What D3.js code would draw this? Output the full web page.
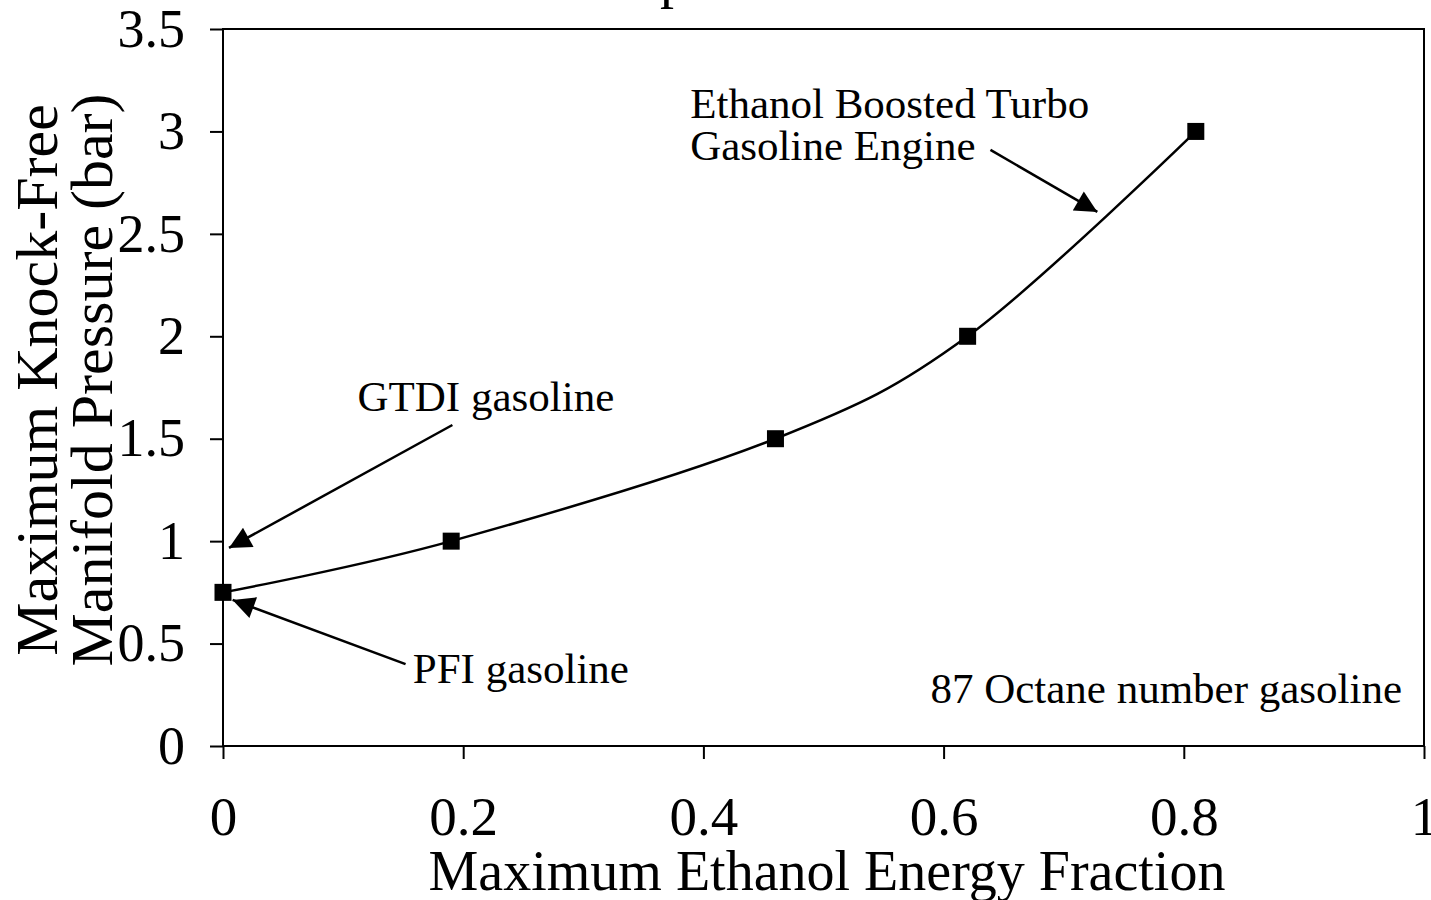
<!DOCTYPE html>
<html>
<head>
<meta charset="utf-8">
<script src="https://cdn.jsdelivr.net/npm/d3@7"></script>
<style>
  body { margin: 0; background: #fff; }
  svg { display: block; font-family: "Liberation Serif", "Times New Roman", serif; }
</style>
</head>
<body>
<svg id="chart" width="1431" height="900"></svg>
<script>
// data
const ethanolFraction = [0, 0.19, 0.46, 0.62, 0.81];
const manifoldPressure = [0.75, 1.0, 1.5, 2.0, 3.0];
const xTicks = [0, 0.2, 0.4, 0.6, 0.8, 1];
const yTicks = [0, 0.5, 1, 1.5, 2, 2.5, 3, 3.5];

// annotation labels (in data units)
const labelTexts = ['Ethanol Boosted Turbo', 'Gasoline Engine', 'GTDI gasoline', 'PFI gasoline', '87 Octane number gasoline'];
const labelX = [0.389, 0.389, 0.112, 0.158, 0.589];
const labelY = [3.066, 2.86, 1.635, 0.307, 0.21];
const arrowFrom = [[0.639, 2.91], [0.191, 1.567], [0.152, 0.40]];
const arrowTo = [[0.728, 2.607], [0.005, 0.967], [0.008, 0.713]];

const width = 1431, height = 900;
const margin = { left: 223, right: 7, top: 29, bottom: 154 };

const svg = d3.select('#chart');

const x = d3.scaleLinear().domain([0, 1]).range([margin.left, width - margin.right]);
const y = d3.scaleLinear().domain([0, 3.5]).range([height - margin.bottom, margin.top]);

// title (mostly out of view, only the descender of the "p" shows)
const title = svg.append('text')
    .attr('x', 0)
    .attr('y', -3)
    .style('font-size', '56px')
    .text('Knock Free Operation');
const pPos = title.node().getStartPositionOfChar(12).x;
title.attr('x', 660 - pPos);

// plot frame
svg.append('rect')
    .attr('x', x(0)).attr('y', y(3.5))
    .attr('width', x(1) - x(0)).attr('height', y(0) - y(3.5))
    .attr('fill', 'none').attr('stroke', '#000').attr('stroke-width', 2);

// axes
const xAxis = d3.axisBottom(x).tickValues(xTicks).tickSize(13).tickPadding(37)
    .tickFormat(d => d === 0 || d === 1 ? d3.format('d')(d) : d3.format('.1f')(d));
svg.append('g')
    .attr('transform', `translate(0, ${y(0)})`)
    .call(xAxis)
    .call(g => g.select('.domain').remove())
    .call(g => g.selectAll('line').attr('stroke-width', 2))
    .call(g => g.selectAll('text').style('font-size', '55px').style('font-family', 'Liberation Serif').attr('fill', '#000'));

const yAxis = d3.axisLeft(y).tickValues(yTicks).tickSize(13).tickPadding(25)
    .tickFormat(d => d % 1 === 0 ? d3.format('d')(d) : d3.format('.1f')(d));
svg.append('g')
    .attr('transform', `translate(${x(0)}, 0)`)
    .call(yAxis)
    .call(g => g.select('.domain').remove())
    .call(g => g.selectAll('line').attr('stroke-width', 2))
    .call(g => g.selectAll('text').style('font-size', '54px').style('font-family', 'Liberation Serif').attr('fill', '#000'));

// axis titles
svg.append('text')
    .attr('x', 827)
    .attr('y', 890)
    .attr('text-anchor', 'middle')
    .style('font-size', '56px')
    .text('Maximum Ethanol Energy Fraction');

const yTitle = svg.append('text')
    .attr('transform', `translate(57, 380) rotate(-90)`)
    .attr('text-anchor', 'middle')
    .style('font-size', '60px');
yTitle.append('tspan').attr('x', 0).attr('dy', 0).text('Maximum Knock-Free');
yTitle.append('tspan').attr('x', 0).attr('dy', 55).text('Manifold Pressure (bar)');

// curve
const pts = ethanolFraction.map((d, i) => [d, manifoldPressure[i]]);
const line = d3.line()
    .x(d => x(d[0]))
    .y(d => y(d[1]))
    .curve(d3.curveCardinal.tension(0));

svg.append('path')
    .datum(pts)
    .attr('d', line)
    .attr('fill', 'none')
    .attr('stroke', '#000')
    .attr('stroke-width', 2.5);

svg.append('g')
    .selectAll('rect')
    .data(pts)
    .enter()
    .append('rect')
    .attr('x', d => x(d[0]) - 8.5)
    .attr('y', d => y(d[1]) - 8.5)
    .attr('width', 17)
    .attr('height', 17)
    .attr('fill', '#000');

// arrows
svg.append('defs').append('marker')
    .attr('id', 'arrow')
    .attr('viewBox', '0 0 10 10')
    .attr('refX', 10).attr('refY', 5)
    .attr('markerUnits', 'userSpaceOnUse')
    .attr('markerWidth', 24).attr('markerHeight', 22)
    .attr('orient', 'auto')
    .append('path')
    .attr('d', 'M0,0 L10,5 L0,10 Z')
    .attr('fill', '#000');

svg.append('g')
    .selectAll('line')
    .data(arrowFrom)
    .enter()
    .append('line')
    .attr('x1', d => x(d[0]))
    .attr('y1', d => y(d[1]))
    .attr('x2', (d, i) => x(arrowTo[i][0]))
    .attr('y2', (d, i) => y(arrowTo[i][1]))
    .attr('stroke', '#000')
    .attr('stroke-width', 2.5)
    .attr('marker-end', 'url(#arrow)');

svg.append('g')
    .selectAll('text')
    .data(labelTexts)
    .enter()
    .append('text')
    .attr('x', (d, i) => x(labelX[i]))
    .attr('y', (d, i) => y(labelY[i]))
    .style('font-size', '43px')
    .text(d => d);
</script>
</body>
</html>
